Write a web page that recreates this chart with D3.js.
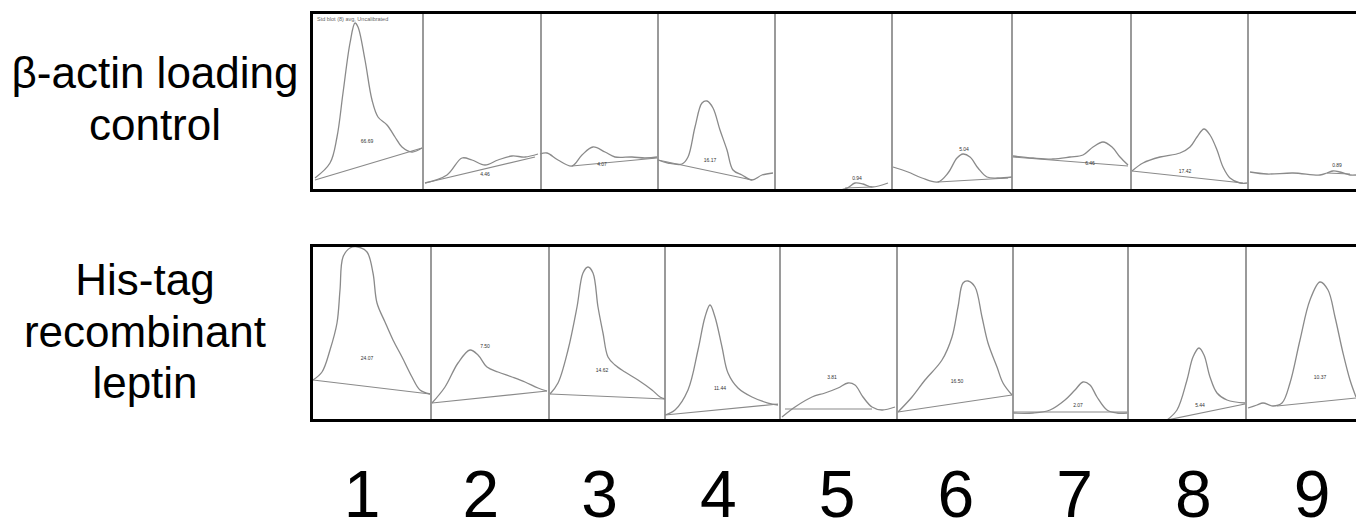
<!DOCTYPE html>
<html lang="en">
<head>
<meta charset="UTF-8">
<title>Densitometry</title>
<style>
    body { margin: 0; background: #fff; }
    svg { display: block; font-family: "Liberation Sans", Arial, sans-serif; }
    .trace { fill: none; stroke: #8a8a8a; stroke-width: 1.3px; }
    .base { fill: none; stroke: #8a8a8a; stroke-width: 1.2px; }
    .divider { stroke: #9a9a9a; stroke-width: 2px; }
    .frame { fill: none; stroke: #000; stroke-width: 3px; }
    .area-label { font-size: 5px; fill: #333; text-anchor: middle; }
</style>
</head>
<body>
<script src="https://d3js.org/d3.v7.min.js"></script>
<script>
// lanes and scan positions (track units along the scan)
var lanes = ["1", "2", "3", "4", "5", "6", "7", "8", "9"];
var laneEdgesTop = [0, 113, 231, 348, 465, 582, 702, 821, 938];
var laneEdgesBottom = [1, 121, 239, 355, 470, 587, 703, 818, 936];

// beta-actin profiles: [track position, density]
var actinProfiles = [
    [[5,11],[20,26],[27,52],[33,96],[40,146],[45,166],[48,162],[55,129],[62,89],[68,72],[77,64],[85,52],[92,42],[102,37],[112,41]],
    [[115,6],[137,14],[152,31],[162,29],[175,24],[188,29],[202,33],[215,32],[228,35]],
    [[230,35],[237,36],[248,29],[262,23],[272,34],[283,42],[295,37],[305,32],[322,32],[335,31],[347,32]],
    [[348,29],[358,26],[372,25],[378,32],[385,62],[392,86],[397,88],[403,81],[410,59],[417,39],[423,19],[432,14],[442,9],[452,14],[463,16]],
    [[466,-1],[535,0],[545,6],[553,5],[562,2],[578,6]],
    [[583,22],[598,17],[612,11],[628,7],[638,16],[647,31],[653,35],[660,32],[668,21],[677,12],[688,11],[702,12]],
    [[703,33],[723,31],[743,30],[760,32],[773,34],[783,42],[793,47],[802,42],[810,32],[818,24]],
    [[822,18],[833,26],[850,32],[870,36],[880,42],[887,52],[894,60],[900,54],[907,39],[913,22],[920,11],[930,6],[937,6]],
    [[940,17],[957,15],[983,16],[1010,14],[1017,16],[1023,18],[1030,17],[1040,14],[1046,14]]
];
var actinBaselines = [
    [[5,9],[112,41]], [[115,6],[225,32]], [[262,23],[347,31]], [[348,29],[442,9]],
    [[535,1],[562,2]], [[628,7],[698,11]], [[703,32],[818,23]], [[822,18],[933,6]], [[1017,16],[1040,15]]
];
var actinAreas = ["66.69", "4.46", "4.07", "16.17", "0.94", "5.04", "6.46", "17.42", "0.89"];
var actinAreaPos = [[57,48],[175,15],[292,25],[400,29],[547,11],[654,40],[780,26],[875,18],[1027,24]];

// His-tag leptin profiles
var leptinProfiles = [
    [[3,39],[12,47],[20,69],[27,96],[30,129],[33,162],[40,171],[48,172],[57,167],[63,146],[67,116],[75,97],[83,79],[92,62],[102,42],[110,29],[120,25]],
    [[122,16],[135,32],[148,56],[160,69],[168,64],[177,52],[188,47],[202,42],[215,37],[228,31],[237,28]],
    [[240,25],[248,36],[258,69],[267,112],[273,146],[278,152],[283,146],[288,112],[293,86],[298,62],[305,54],[315,47],[328,39],[342,29],[350,22],[355,20]],
    [[355,4],[365,9],[378,29],[388,69],[395,102],[400,114],[405,102],[412,72],[418,46],[428,31],[442,22],[458,16],[468,14]],
    [[472,2],[485,12],[502,22],[515,26],[528,31],[538,36],[545,34],[553,22],[562,12],[572,9],[585,12]],
    [[588,7],[602,22],[615,39],[632,59],[642,82],[648,112],[653,136],[658,138],[665,132],[672,102],[678,76],[687,52],[693,36],[702,24]],
    [[703,6],[723,6],[740,9],[755,19],[765,29],[773,37],[780,34],[787,22],[797,9],[807,6],[817,6]],
    [[857,-1],[867,9],[877,39],[883,62],[889,71],[894,64],[900,42],[907,26],[917,19],[935,16]],
    [[938,11],[947,14],[953,16],[963,13],[972,16],[980,36],[990,79],[1000,119],[1010,137],[1018,129],[1025,102],[1033,66],[1040,39],[1046,22]]
];
var leptinBaselines = [
    [[3,39],[120,25]], [[122,16],[237,28]], [[240,25],[355,20]], [[355,4],[468,15]],
    [[475,10],[562,10]], [[588,7],[702,24]], [[703,7],[817,7]], [[857,-1],[935,15]], [[967,13],[1046,21]]
];
var leptinAreas = ["24.07", "7.50", "14.62", "11.44", "3.81", "16.50", "2.07", "5.44", "10.37"];
var leptinAreaPos = [[57,61],[175,73],[292,49],[410,31],[522,42],[647,38],[768,14],[890,14],[1010,42]];

var W = 1356, H = 522;
var svg = d3.select("body").append("svg").attr("width", W).attr("height", H);

var x = d3.scaleLinear().domain([0, 1046]).range([310, 1356]);
var yTop = d3.scaleLinear().domain([0, 175]).range([189, 14]);
var yBot = d3.scaleLinear().domain([0, 172]).range([419, 247]);

function drawPanel(id, y, edges, profiles, baselines, areas, areaPos, top, bottom) {
    svg.append("clipPath").attr("id", id)
        .append("rect").attr("x", 311).attr("y", top).attr("width", W).attr("height", bottom - top);
    var g = svg.append("g").attr("clip-path", "url(#" + id + ")");

    g.selectAll(".divider").data(edges.slice(1)).enter().append("line")
        .attr("class", "divider")
        .attr("x1", function (d) { return x(d); }).attr("x2", function (d) { return x(d); })
        .attr("y1", top).attr("y2", bottom);

    var line = d3.line()
        .x(function (d) { return x(d[0]); })
        .y(function (d) { return y(d[1]); })
        .curve(d3.curveCatmullRom.alpha(0.5));
    var straight = d3.line()
        .x(function (d) { return x(d[0]); })
        .y(function (d) { return y(d[1]); });

    g.selectAll(".trace").data(profiles).enter().append("path")
        .attr("class", "trace").attr("d", line);
    g.selectAll(".base").data(baselines).enter().append("path")
        .attr("class", "base").attr("d", straight);

    g.selectAll(".area-label").data(areas).enter().append("text")
        .attr("class", "area-label")
        .attr("x", function (d, i) { return x(areaPos[i][0]); })
        .attr("y", function (d, i) { return y(areaPos[i][1]) + 2; })
        .text(function (d) { return d; });

    svg.append("rect").attr("class", "frame")
        .attr("x", 311.5).attr("y", top - 1.5)
        .attr("width", W + 10).attr("height", bottom - top + 3);
    return g;
}

var gTop = drawPanel("clipTop", yTop, laneEdgesTop, actinProfiles, actinBaselines,
    actinAreas, actinAreaPos, 14, 189);
drawPanel("clipBot", yBot, laneEdgesBottom, leptinProfiles, leptinBaselines,
    leptinAreas, leptinAreaPos, 247, 419);

// software caption in first lane
gTop.append("text")
    .attr("x", x(7)).attr("y", 21)
    .style("font-size", "5.5px").style("fill", "#666")
    .text("Std blot (8) avg, Uncalibrated");

// row labels
var rowLabels = [
    { lines: ["\u03b2-actin loading", "control"], cx: 155, y0: 88 },
    { lines: ["His-tag", "recombinant", "leptin"], cx: 145, y0: 295 }
];
rowLabels.forEach(function (r) {
    svg.append("g").selectAll("text").data(r.lines).enter().append("text")
        .attr("x", r.cx)
        .attr("y", function (d, i) { return r.y0 + i * 51.5; })
        .attr("text-anchor", "middle")
        .style("font-size", "44px")
        .style("fill", "#000")
        .text(function (d) { return d; });
});

// lane numbers
var lanePos = d3.scalePoint().domain(lanes).range([362, 1312]);
svg.append("g").selectAll("text").data(lanes).enter().append("text")
    .attr("x", function (d) { return lanePos(d); })
    .attr("y", 517)
    .attr("text-anchor", "middle")
    .style("font-size", "66px")
    .style("fill", "#000")
    .text(function (d) { return d; });
</script>
</body>
</html>
